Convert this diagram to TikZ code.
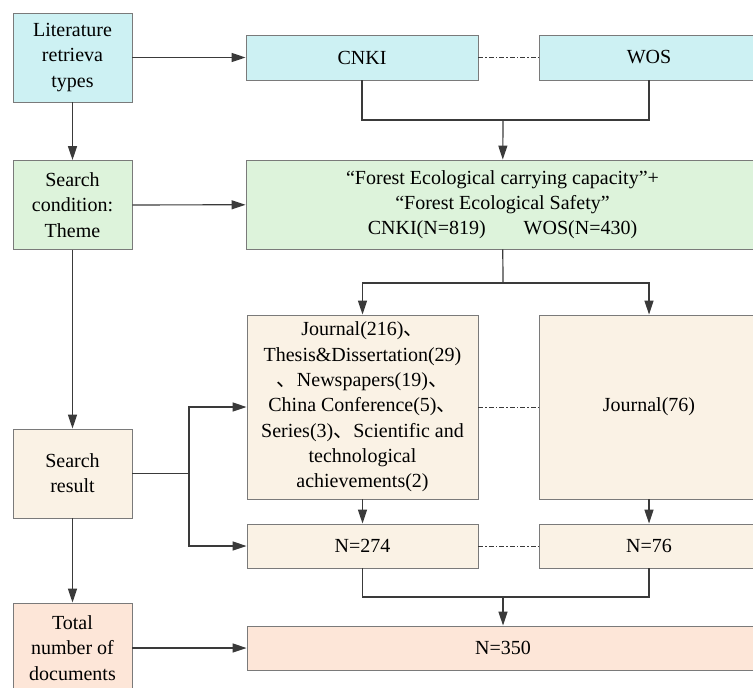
\documentclass[tikz,border=0pt]{standalone}
\usepackage{fontspec}
\setmainfont{Liberation Serif}
\newfontfamily\cjkfont{Noto Sans CJK SC}
\usetikzlibrary{arrows.meta}

\newcommand{\dun}{{\cjkfont 、}}

\definecolor{cyanfill}{HTML}{CDF1F3}
\definecolor{greenfill}{HTML}{DDF3DB}
\definecolor{beigefill}{HTML}{FAF2E5}
\definecolor{salmonfill}{HTML}{FDE6D8}
\definecolor{edgegray}{HTML}{7A7A7A}
\definecolor{linegray}{HTML}{3A3A3A}

\tikzset{
	box/.style={draw=edgegray, line width=0.9pt, inner sep=0pt, align=center,
		font=\rmfamily\fontsize{20}{25.3}\selectfont},
	leftbox/.style={box, minimum width=119pt, minimum height=89pt},
	arr/.style={draw=linegray, line width=1.2pt, -{Triangle[length=14pt,width=9pt]}},
	ln/.style={draw=linegray, line width=1.2pt},
	dd/.style={draw=linegray, line width=0.8pt, dash pattern=on 5pt off 2pt on 1.5pt off 2pt}
}

\begin{document}
\begin{tikzpicture}[x=1pt, y=-1pt]
	\useasboundingbox (0,0) rectangle (753,688);
	% left column
	\node[leftbox, fill=cyanfill] (lit) at (72.5,57.5) {Literature\\retrieva\\types};
	\node[leftbox, fill=greenfill] (cond) at (72.5,205) {Search\\condition:\\Theme};
	\node[leftbox, fill=beigefill] (res) at (72.5,473.5) {Search\\result};
	\node[leftbox, fill=salmonfill, minimum height=90pt] (total) at (72.5,648) {Total\\number of\\documents};
	% right column
	\node[box, fill=cyanfill, minimum width=232pt, minimum height=45pt] (cnki) at (362,57.5) {CNKI};
	\node[box, fill=cyanfill, minimum width=220pt, minimum height=45pt] (wos) at (649,57.5) {WOS};
	\node[box, fill=greenfill, minimum width=513pt, minimum height=89pt] (green) at (502.5,204.5)
		{“Forest Ecological carrying capacity”+\\“Forest Ecological Safety”\\CNKI(N=819)\hspace{38pt}WOS(N=430)};
	\node[box, fill=beigefill, minimum width=231pt, minimum height=184pt] (journal) at (362.5,407)
		{Journal(216)\dun\\Thesis\&Dissertation(29)\\\dun Newspapers(19)\dun\\China Conference(5)\dun\\Series(3)\dun Scientific and\\technological\\achievements(2)};
	\node[box, fill=beigefill, minimum width=220pt, minimum height=184pt] (jwos) at (649,407) {Journal(76)};
	\node[box, fill=beigefill, minimum width=231pt, minimum height=44pt] (ncnki) at (362.5,546) {N=274};
	\node[box, fill=beigefill, minimum width=220pt, minimum height=44pt] (nwos) at (649,546) {N=76};
	\node[box, fill=salmonfill, minimum width=512pt, minimum height=44pt] (nall) at (503,648) {N=350};
	% junctions
	\coordinate (ja) at (503,120);
	\coordinate (jb) at (503,283);
	\coordinate (jc) at (189,473.5);
	\coordinate (jd) at (503,597);
	% left arrows
	\draw[arr] (lit) -- (cond);
	\draw[arr] (cond) -- (res);
	\draw[arr] (res) -- (total);
	\draw[arr] (lit) -- (cnki);
	\draw[arr] (cond) -- (green);
	\draw[arr] (total) -- (nall);
	% merges and splits
	\draw[ln] (cnki.south) |- (ja) -| (wos.south);
	\draw[arr] (ja) -- (green);
	\draw[ln] (green) -- (jb);
	\draw[arr] (jb) -| (journal.north);
	\draw[arr] (jb) -| (jwos.north);
	\draw[ln] (res) -- (jc);
	\draw[arr] (jc) |- (journal.west);
	\draw[arr] (jc) |- (ncnki.west);
	\draw[arr] (journal) -- (ncnki);
	\draw[arr] (jwos) -- (nwos);
	\draw[ln] (ncnki.south) |- (jd) -| (nwos.south);
	\draw[arr] (jd) -- (nall);
	% dash-dot links
	\draw[dd] (cnki) -- (wos);
	\draw[dd] (journal) -- (jwos);
	\draw[dd] (ncnki) -- (nwos);
\end{tikzpicture}
\end{document}
